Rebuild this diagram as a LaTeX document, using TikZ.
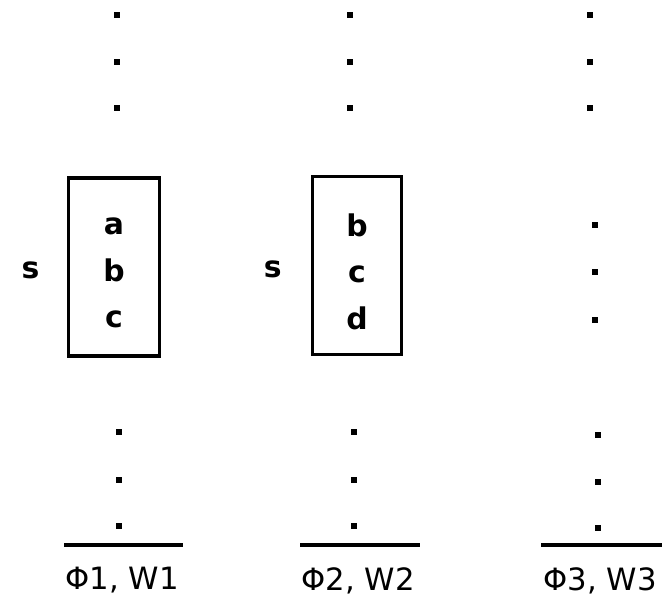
\documentclass[tikz,border=0pt]{standalone}
\usepackage{fontspec}
\setmainfont{DejaVu Sans}
\usetikzlibrary{positioning}

\begin{document}
\begin{tikzpicture}[
    x=0.02cm, y=-0.02cm,
    font=\fontsize{17.5}{26.5}\selectfont,
    win box/.style={draw, line width=2pt,
                    minimum width=1.82cm, minimum height=3.56cm, inner sep=0pt},
    win text/.style={align=center, inner sep=0pt,
                     font=\fontsize{17}{26.5}\selectfont\bfseries},
    sym label/.style={font=\fontsize{17}{20}\selectfont\bfseries},
    col label/.style={anchor=north, inner sep=0pt},
    dot mark/.style={fill=black},
    base line/.style={line width=2pt},
]

\useasboundingbox (0,0) rectangle (662,602);

\def\ds{3}  % half dot size

% =====================================================================
%  COLUMN 1
% =====================================================================
% --- top dots ---
\foreach \y in {15,62,108} {
    \fill[dot mark] (117-\ds,\y-\ds) rectangle (117+\ds,\y+\ds);
}
% --- window box ---
\node[win box] (box1) at (114,267) {};
\node[win text] (txt1) at ([yshift=-3.5pt]box1.center) {a\\b\\c};
\node[sym label, left=12pt of box1, yshift=-2pt] (s1) {s};
% --- bottom dots ---
\foreach \y in {432,480,526} {
    \fill[dot mark] (119-\ds,\y-\ds) rectangle (119+\ds,\y+\ds);
}
% --- base ---
\coordinate (l1a) at (64,545);
\coordinate (l1b) at (183,545);
\draw[base line] (l1a) -- (l1b);
\node[col label] (lab1) at (122,567) {Φ1, W1};

% =====================================================================
%  COLUMN 2
% =====================================================================
\foreach \y in {15,62,108} {
    \fill[dot mark] (350-\ds,\y-\ds) rectangle (350+\ds,\y+\ds);
}
\node[win box, minimum width=1.78cm] (box2) at (357,265.5) {};
\node[win text] (txt2) at ([yshift=-3.5pt]box2.center) {b\\c\\d};
\node[sym label, left=13pt of box2, yshift=-2pt] (s2) {s};
\foreach \y in {432,480,526} {
    \fill[dot mark] (354-\ds,\y-\ds) rectangle (354+\ds,\y+\ds);
}
\coordinate (l2a) at (300,545);
\coordinate (l2b) at (420,545);
\draw[base line] (l2a) -- (l2b);
\node[col label] (lab2) at (358,567) {Φ2, W2};

% =====================================================================
%  COLUMN 3
% =====================================================================
\foreach \y in {15,62,108} {
    \fill[dot mark] (590-\ds,\y-\ds) rectangle (590+\ds,\y+\ds);
}
\foreach \y in {225,272,320} {
    \fill[dot mark] (595-\ds,\y-\ds) rectangle (595+\ds,\y+\ds);
}
\foreach \y in {435,482,528} {
    \fill[dot mark] (598-\ds,\y-\ds) rectangle (598+\ds,\y+\ds);
}
\coordinate (l3a) at (541,545);
\coordinate (l3b) at (662,545);
\draw[base line] (l3a) -- (l3b);
\node[col label] (lab3) at (600,567) {Φ3, W3};

\end{tikzpicture}
\end{document}
